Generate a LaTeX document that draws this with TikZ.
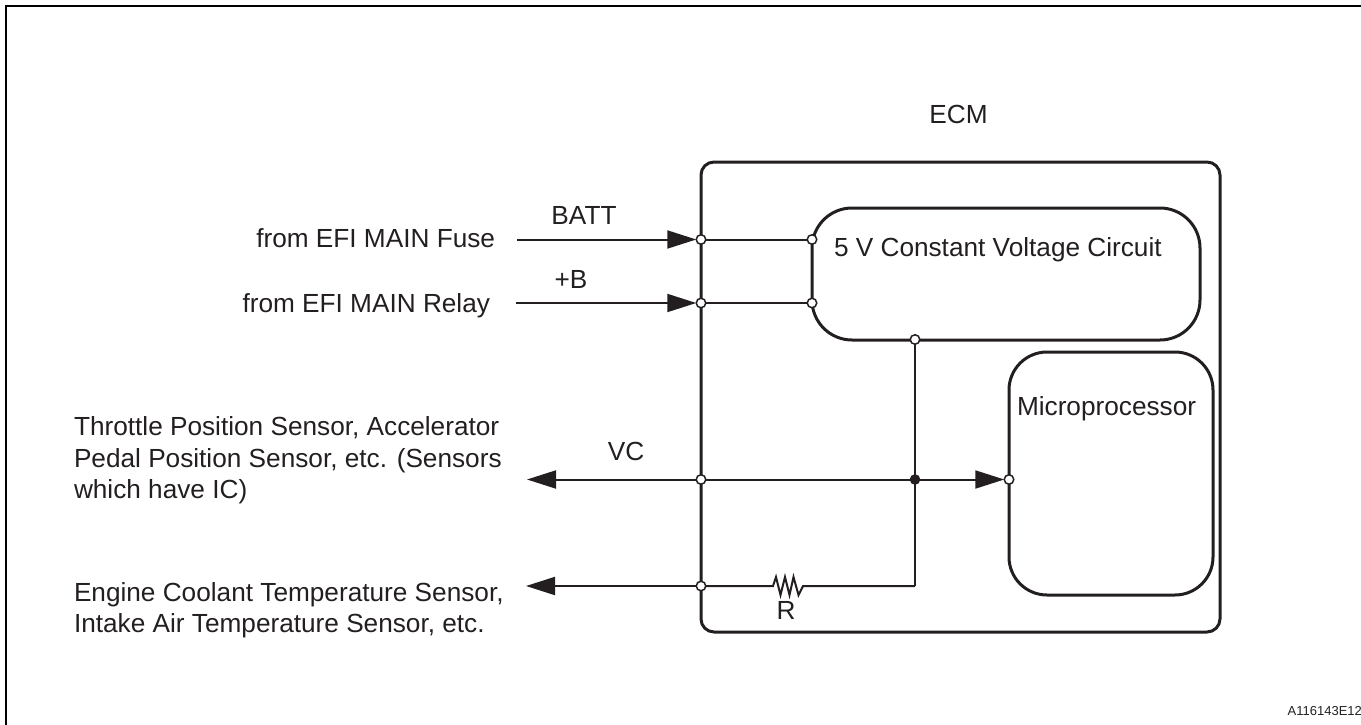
\documentclass[tikz,border=0pt]{standalone}
\usepackage{fontspec}
\setmainfont{Liberation Sans}
\usetikzlibrary{arrows.meta}
\definecolor{ink}{HTML}{231F20}
\tikzset{
  box/.style={draw=ink,line width=3pt,fill=none},
  wire/.style={draw=ink,line width=2pt},
  feed/.style={draw=ink,line width=2pt},
  inarrow/.style={feed,-{Triangle[length=29pt,width=18pt,color=ink]}},
  outarrow/.style={feed,{Triangle[length=29pt,width=18pt,color=ink]}-},
  openj/.style={circle,draw=ink,fill=white,line width=1.5pt,minimum size=9.5pt,inner sep=0pt,outer sep=0pt},
  solidj/.style={circle,draw=ink,fill=ink,line width=1pt,minimum size=9.5pt,inner sep=0pt,outer sep=0pt},
  lbl/.style={text=ink,font=\fontsize{26.2pt}{31.2pt}\selectfont,inner sep=0pt,outer sep=0pt},
  mlbl/.style={lbl,align=left,anchor=west}
}
\begin{document}
\begin{tikzpicture}[x=1pt,y=-1pt]
\useasboundingbox (0,0) rectangle (1361,725);
% frame
\draw[black,line width=2.2pt] (6,725) -- (6,6) -- (1361,6);
% boxes
\draw[box,rounded corners=13pt] (701,162) rectangle (1220,632);
\draw[box,rounded corners=40pt] (812,208) rectangle (1200,340);
\draw[box,rounded corners=38pt] (1009,352) rectangle (1213,595);
% junctions
\node[openj] (ja) at (701,239.5) {};
\node[openj] (jb) at (812,239.5) {};
\node[openj] (jc) at (701,303) {};
\node[openj] (jd) at (812,303) {};
\node[openj] (je) at (915,339.5) {};
\node[openj] (jf) at (701,479.5) {};
\node[solidj] (jg) at (915,479.5) {};
\node[openj] (jh) at (1009,479.5) {};
\node[openj] (ji) at (701,586) {};
\coordinate (s1) at (517,239.5);
\coordinate (s2) at (516,303);
\coordinate (t1) at (527,479.5);
\coordinate (t2) at (526,586);
\coordinate (corner) at (915,586);
\coordinate (r1) at (773,586);
\coordinate (r2) at (803,586);
% connectors
\draw[inarrow] (s1) -- (ja);
\draw[inarrow] (s2) -- (jc);
\draw[outarrow] (t1) -- (jf);
\draw[outarrow] (t2) -- (ji);
\draw[wire] (ja) -- (jb);
\draw[wire] (jc) -- (jd);
\draw[wire] (jf) -- (jg);
\draw[inarrow] (jg) -- (jh);
\draw[wire] (je) -- (jg);
\draw[wire] (jg) -- (corner);
\draw[wire,line join=miter] (ji) -- (r1) -- (776,577) -- (780.5,595) -- (785,577) -- (789.5,595) -- (793.5,577) -- (798.5,595) -- (r2) -- (corner);
% labels
\node[lbl,anchor=base] (ecm) at (958.5,123) {ECM};
\node[lbl,anchor=base] (batt) at (584,224.5) {BATT};
\node[lbl,anchor=base] (pb) at (571,288.5) {+B};
\node[lbl,anchor=base] (vc) at (626,460) {VC};
\node[lbl,anchor=base] (rl) at (786,619.5) {R};
\node[lbl,anchor=base east] (fuse) at (495,247.7) {from EFI MAIN Fuse};
\node[lbl,anchor=base east] (relay) at (490,312.7) {from EFI MAIN Relay};
\node[lbl,anchor=base west] (volt) at (834,256.7) {5 V Constant Voltage Circuit};
\node[lbl,anchor=base west] (micro) at (1017,415) {Microprocessor};
\node[mlbl] (tps) at (74,460.3) {Throttle Position Sensor, Accelerator\\Pedal Position Sensor, etc. (Sensors\\which have IC)};
\node[mlbl] (ect) at (74,610) {Engine Coolant Temperature Sensor,\\Intake Air Temperature Sensor, etc.};
\node[text=ink,font=\fontsize{13pt}{15pt}\selectfont,anchor=base west,inner sep=0pt] (code) at (1287.5,715) {A116143E12};
\end{tikzpicture}
\end{document}
